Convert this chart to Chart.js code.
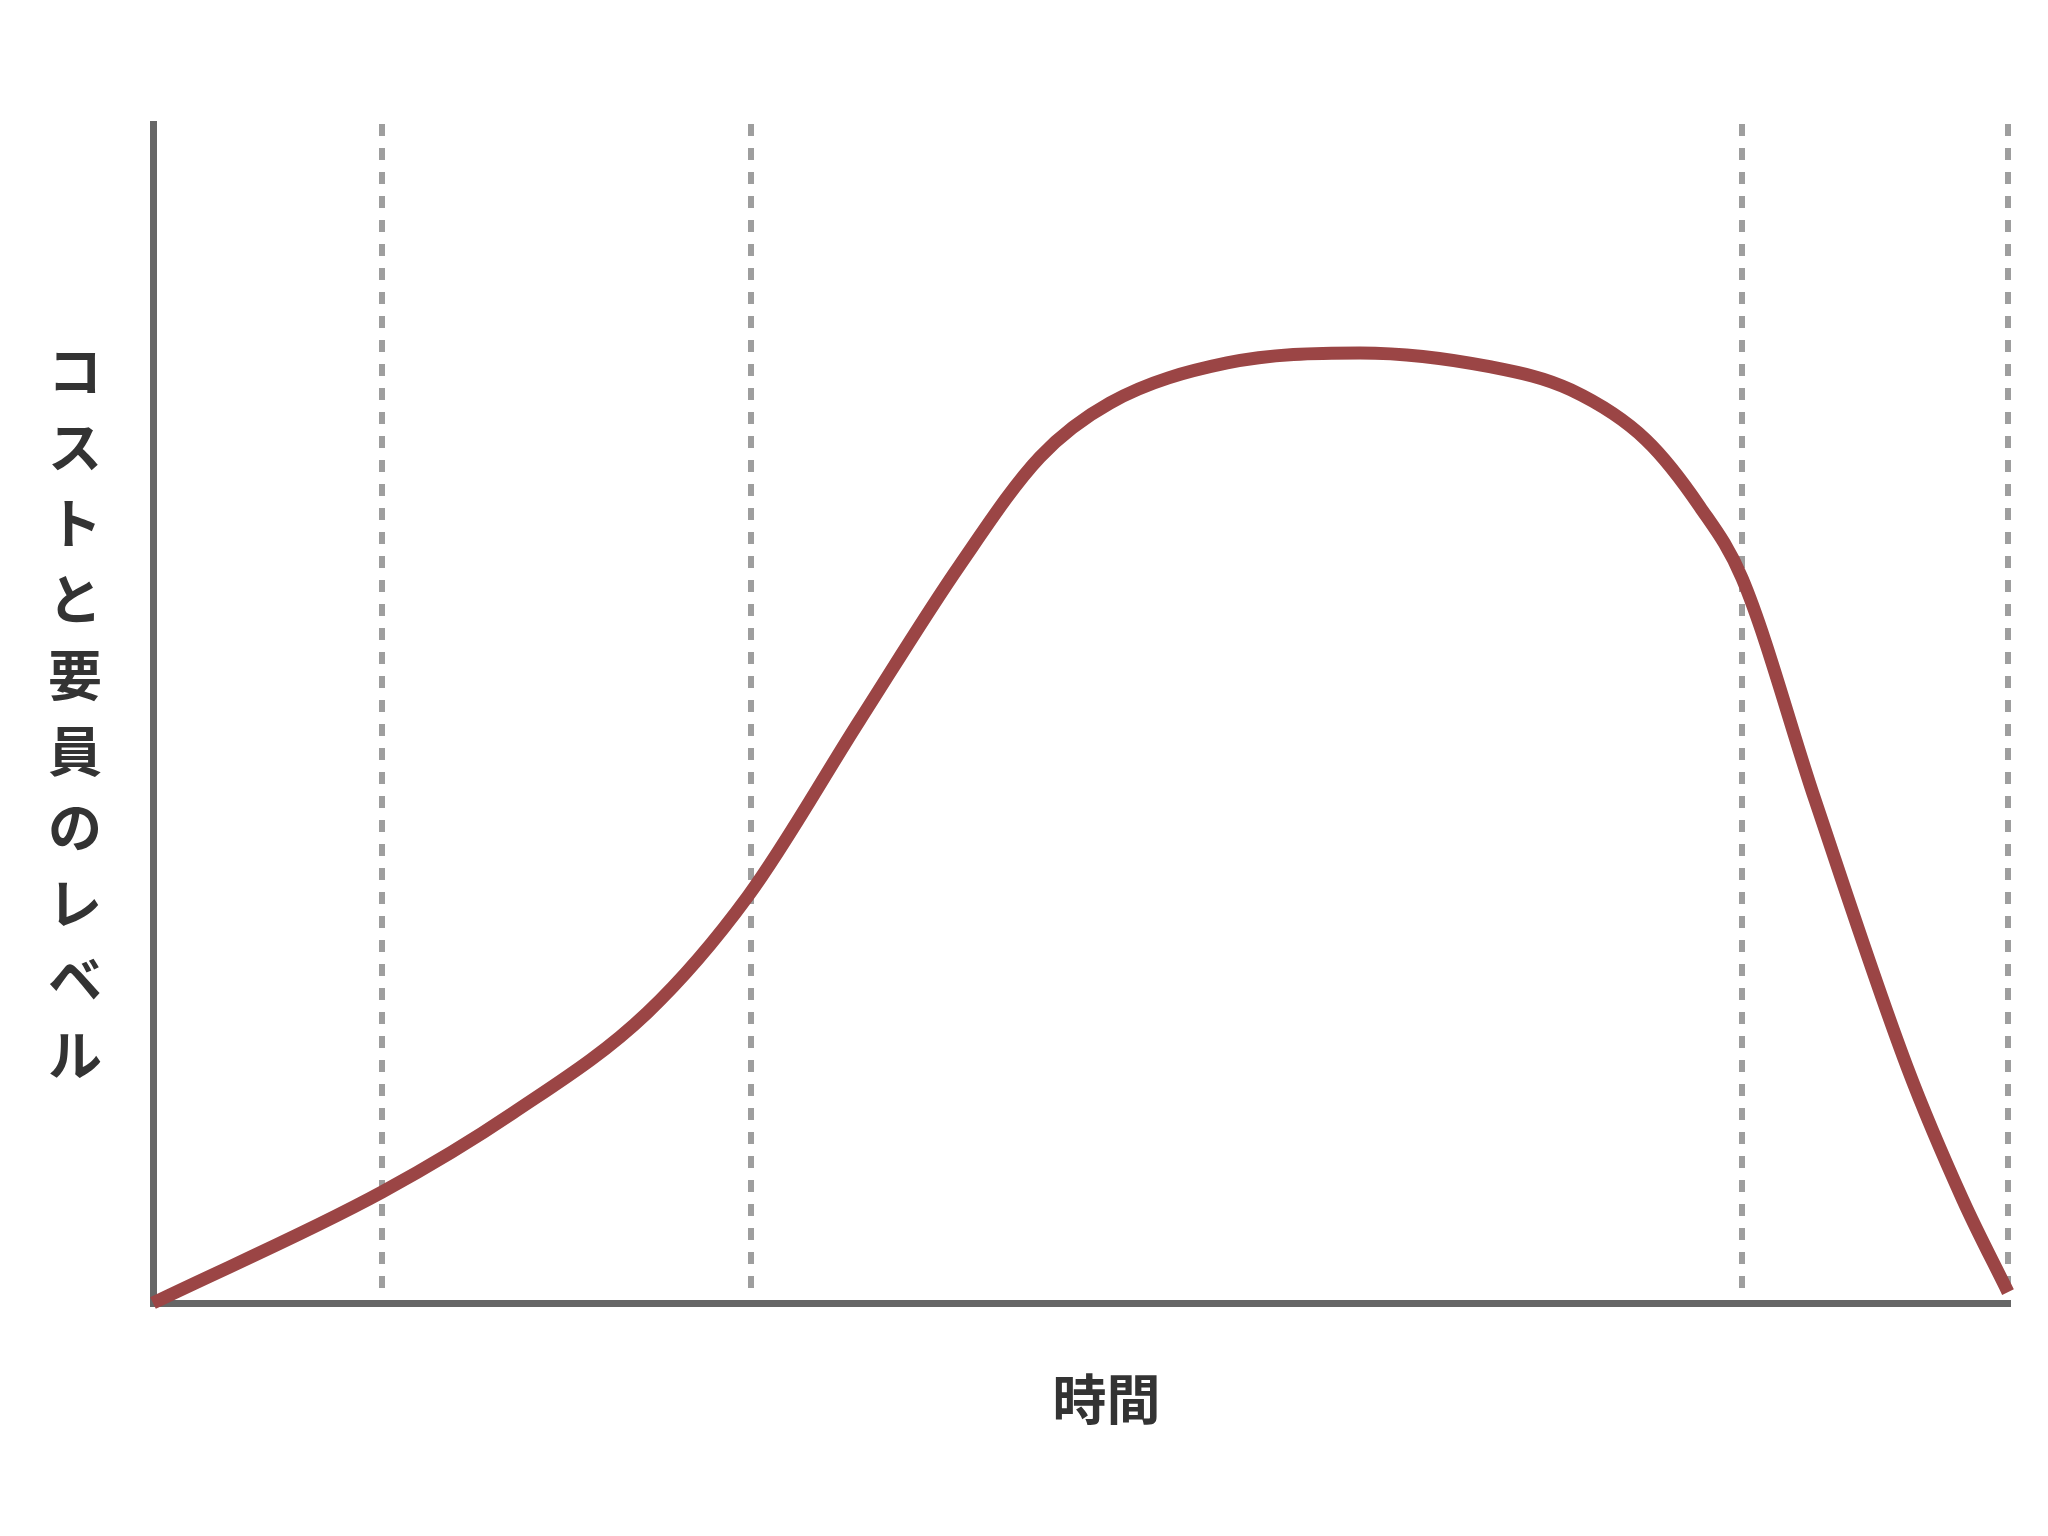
<!DOCTYPE html>
<html>
<head>
<meta charset="utf-8">
<script src="https://cdn.jsdelivr.net/npm/chart.js@4"></script>
<style>
  body { margin: 0; background: #fff; }
</style>
</head>
<body>
<canvas id="lifeCvs" width="2048" height="1536"></canvas>
<script>
// axis titles
const yTitle = 'コストと要員のレベル';
const xTitle = '時間';

// time (0-100) and level (0-100)
const timeVals = [0, 12.35, 19.41, 26.63, 32.08, 38.11, 43.5, 47.82, 51.59, 57.9, 65.07, 72.13, 76.44, 80.49, 83.4, 85.66, 89.6, 94.56, 97.57, 100];
const levelVals = [0, 9.41, 16.12, 24.6, 34.52, 49.45, 62.6, 71.76, 76.34, 79.73, 80.58, 79.39, 77.44, 73.2, 67.51, 61.49, 42.66, 20.02, 8.74, 0.93];

// phase dividers (dashed lines)
const phaseLines = [12.35, 32.25, 85.65, 100];

const points = timeVals.map((t, i) => ({ x: t, y: levelVals[i] }));

// draws the titles: y title stacked upright, char by char
const titlePlugin = {
  id: 'axisTitles',
  afterDraw(chart) {
    const { ctx, chartArea } = chart;
    ctx.save();
    ctx.fillStyle = '#333';
    ctx.font = 'bold 54px "Noto Sans CJK JP"';
    ctx.textAlign = 'center';
    ctx.textBaseline = 'middle';
    const chars = [...yTitle];
    const mid = (chartArea.top + chartArea.bottom) / 2;
    chars.forEach((c, i) => {
      ctx.fillText(c, chartArea.left - 78, mid + (i - (chars.length - 1) / 2) * 76);
    });
    ctx.fillText(xTitle, (chartArea.left + chartArea.right) / 2 + 26, chartArea.bottom + 96);
    ctx.restore();
  }
};

const cvs = document.getElementById('lifeCvs');
const ctx = cvs.getContext('2d');
new Chart(ctx, {
  type: 'line',
  data: {
    datasets: [{
      data: points,
      borderColor: '#9b4545',
      borderWidth: 13,
      pointRadius: 0,
      cubicInterpolationMode: 'monotone',
      borderCapStyle: 'butt',
      clip: false,
      fill: false
    }]
  },
  options: {
    responsive: false,
    animation: false,
    events: [],
    layout: { padding: { left: 153, right: 40, top: 124, bottom: 233 } },
    plugins: { legend: { display: false }, tooltip: { enabled: false } },
    scales: {
      x: {
        type: 'linear',
        min: 0,
        max: 100,
        afterBuildTicks: (axis) => { axis.ticks = phaseLines.map(v => ({ value: v })); },
        afterFit: (axis) => { axis.height = 0; },
        ticks: { display: false },
        grid: { color: '#9e9e9e', lineWidth: 6, drawTicks: false },
        border: { color: '#666', width: 7, dash: [12, 12] }
      },
      y: {
        min: 0,
        max: 100,
        afterFit: (axis) => { axis.width = 0; },
        ticks: { display: false },
        grid: { display: false, drawTicks: false },
        border: { color: '#666', width: 7 }
      }
    }
  },
  plugins: [titlePlugin]
});
</script>
</body>
</html>
